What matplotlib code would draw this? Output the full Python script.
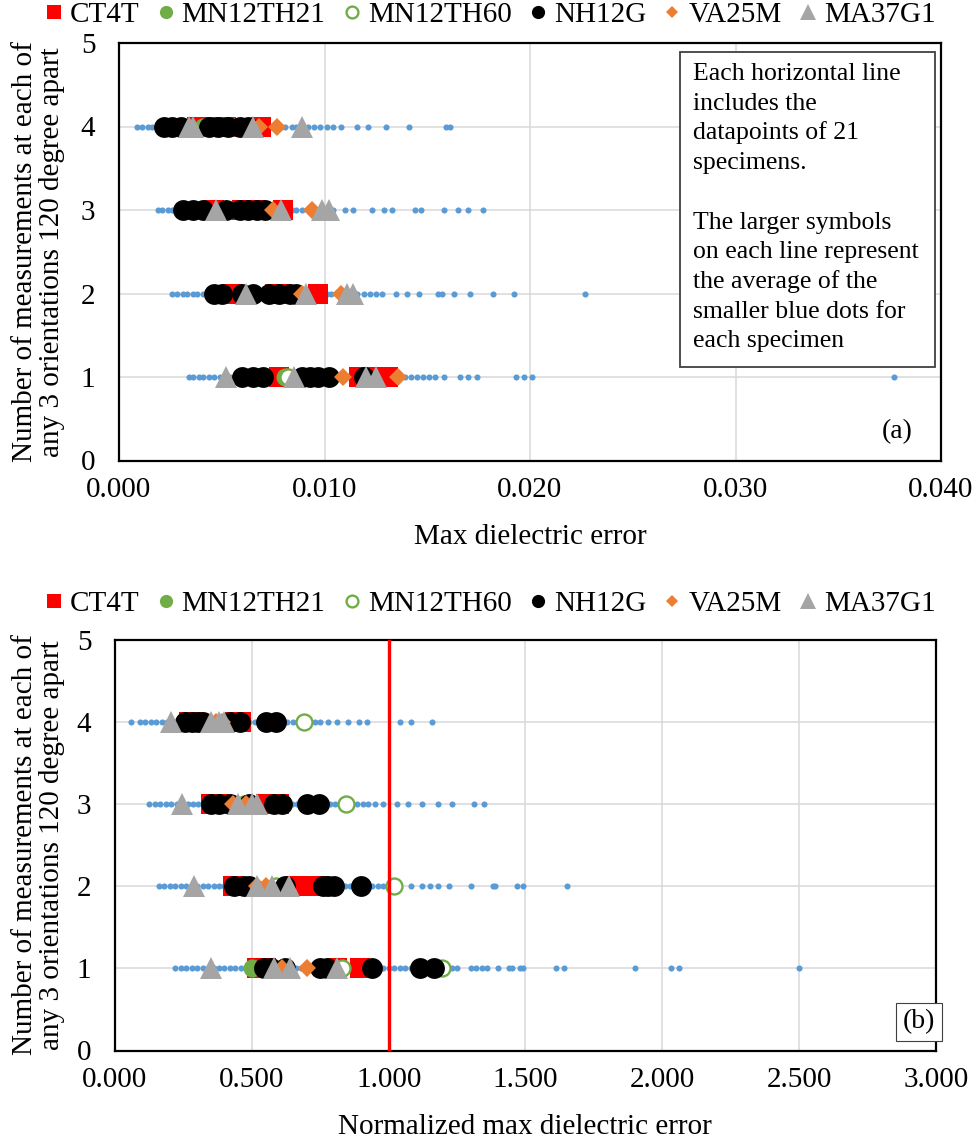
"""Max dielectric error vs. number of measurements, raw (a) and normalized (b)."""
import matplotlib

matplotlib.use("Agg")
import matplotlib.pyplot as plt
from matplotlib.lines import Line2D
from matplotlib.patches import Rectangle
from matplotlib.ticker import FormatStrFormatter

plt.rcParams["font.family"] = ["Liberation Serif", "DejaVu Serif"]

ROWS = [1, 2, 3, 4]
SPECIMENS = ["CT4T", "MN12TH21", "MN12TH60", "NH12G", "VA25M", "MA37G1"]

# ---- panel (a): max dielectric error, individual measurements (blue dots)
A_BLUE = {
    4: [0.0009, 0.0011, 0.0014, 0.0016, 0.0019, 0.0021, 0.0024, 0.0026, 0.0029, 0.0031,
        0.0034, 0.0036, 0.0039, 0.0041, 0.0044, 0.0046, 0.0049, 0.0051, 0.0054, 0.0056,
        0.0059, 0.0061, 0.0064, 0.0066, 0.0069, 0.0071, 0.0074, 0.0076, 0.0079, 0.0081,
        0.0084, 0.0086, 0.0089, 0.0092, 0.0095, 0.0098, 0.0101, 0.0104, 0.0108, 0.0116,
        0.0121, 0.0130, 0.0141, 0.0159, 0.0161],
    3: [0.0019, 0.0021, 0.0024, 0.0026, 0.0029, 0.0031, 0.0034, 0.0036, 0.0039, 0.0041,
        0.0044, 0.0046, 0.0049, 0.0051, 0.0054, 0.0056, 0.0059, 0.0061, 0.0064, 0.0066,
        0.0069, 0.0071, 0.0074, 0.0076, 0.0079, 0.0081, 0.0084, 0.0086, 0.0089, 0.0092,
        0.0095, 0.0098, 0.0101, 0.0104, 0.0110, 0.0114, 0.0123, 0.0129, 0.0133, 0.0144,
        0.0147, 0.0158, 0.0165, 0.0170, 0.0177],
    2: [0.0026, 0.0028, 0.0031, 0.0033, 0.0036, 0.0038, 0.0041, 0.0043, 0.0046, 0.0048,
        0.0051, 0.0053, 0.0056, 0.0058, 0.0061, 0.0063, 0.0066, 0.0068, 0.0071, 0.0073,
        0.0076, 0.0078, 0.0081, 0.0083, 0.0086, 0.0088, 0.0091, 0.0093, 0.0096, 0.0098,
        0.0101, 0.0103, 0.0106, 0.0108, 0.0111, 0.0113, 0.0116, 0.0119, 0.0122, 0.0125,
        0.0128, 0.0135, 0.0140, 0.0146, 0.0155, 0.0157, 0.0163, 0.0171, 0.0182, 0.0192,
        0.0227],
    1: [0.0034, 0.0036, 0.0039, 0.0041, 0.0044, 0.0046, 0.0049, 0.0051, 0.0054, 0.0056,
        0.0059, 0.0061, 0.0064, 0.0066, 0.0069, 0.0071, 0.0074, 0.0076, 0.0079, 0.0081,
        0.0084, 0.0086, 0.0089, 0.0091, 0.0094, 0.0096, 0.0099, 0.0101, 0.0104, 0.0106,
        0.0109, 0.0111, 0.0114, 0.0116, 0.0119, 0.0121, 0.0124, 0.0126, 0.0129, 0.0131,
        0.0134, 0.0136, 0.0139, 0.0142, 0.0145, 0.0148, 0.0151, 0.0154, 0.0158, 0.0166,
        0.0170, 0.0174, 0.0193, 0.0197, 0.0201, 0.0377],
}

# ---- panel (a): specimen averages
A_CT4T = {4: [0.0038, 0.0046, 0.0052, 0.0069], 3: [0.0046, 0.0060, 0.0066, 0.0080],
          2: [0.0055, 0.0076, 0.0079, 0.0097], 1: [0.0078, 0.0117, 0.0122, 0.0131]}
A_MN12TH21 = {4: [0.0041], 3: [0.0053], 2: [0.0072], 1: [0.0081]}
A_MN12TH60 = {4: [0.0045, 0.0055], 3: [0.0053, 0.0059], 2: [0.0065, 0.0073], 1: [0.0082, 0.0095]}
A_NH12G = {4: [0.0022, 0.0026, 0.0030, 0.0044, 0.0048, 0.0053, 0.0059, 0.0063],
           3: [0.0031, 0.0036, 0.0041, 0.0052, 0.0059, 0.0063, 0.0067, 0.0071],
           2: [0.0046, 0.0050, 0.0060, 0.0065, 0.0073, 0.0078, 0.0083, 0.0086],
           1: [0.0060, 0.0065, 0.0070, 0.0089, 0.0093, 0.0097, 0.0102, 0.0119]}
A_VA25M = {4: [0.0068, 0.0077], 3: [0.0075, 0.0094], 2: [0.0089, 0.0108], 1: [0.0109, 0.0136]}
A_MA37G1 = {4: [0.0034, 0.0036, 0.0065, 0.0089], 3: [0.0047, 0.0079, 0.0099, 0.0102],
            2: [0.0062, 0.0091, 0.0111, 0.0114], 1: [0.0052, 0.0085, 0.0120, 0.0125]}

# ---- panel (b): normalized max dielectric error, individual measurements
B_BLUE = {
    4: [0.06, 0.09, 0.11, 0.13, 0.15, 0.17, 0.19, 0.21, 0.23, 0.25, 0.27, 0.29, 0.31, 0.33,
        0.35, 0.37, 0.39, 0.41, 0.43, 0.45, 0.47, 0.49, 0.51, 0.53, 0.55, 0.57, 0.59, 0.61,
        0.63, 0.65, 0.67, 0.69, 0.71, 0.73, 0.75, 0.78, 0.81, 0.85, 0.89, 0.92, 1.04, 1.08,
        1.16],
    3: [0.125, 0.145, 0.165, 0.185, 0.205, 0.225, 0.245, 0.265, 0.285, 0.305, 0.325, 0.345,
        0.365, 0.385, 0.405, 0.425, 0.445, 0.465, 0.485, 0.505, 0.525, 0.545, 0.565, 0.585,
        0.605, 0.625, 0.645, 0.665, 0.685, 0.705, 0.725, 0.745, 0.765, 0.785, 0.805, 0.825,
        0.845, 0.865, 0.885, 0.905, 0.925, 0.95, 0.98, 1.03, 1.07, 1.12, 1.18, 1.23, 1.31,
        1.35],
    2: [0.16, 0.18, 0.20, 0.22, 0.24, 0.26, 0.28, 0.30, 0.32, 0.34, 0.36, 0.38, 0.40, 0.42,
        0.44, 0.46, 0.48, 0.50, 0.52, 0.54, 0.56, 0.58, 0.60, 0.62, 0.64, 0.66, 0.68, 0.70,
        0.72, 0.74, 0.76, 0.78, 0.80, 0.82, 0.84, 0.86, 0.88, 0.90, 0.92, 0.94, 0.96, 0.98,
        1.08, 1.12, 1.15, 1.18, 1.22, 1.30, 1.38, 1.39, 1.47, 1.49, 1.65],
    1: [0.22, 0.24, 0.26, 0.28, 0.30, 0.32, 0.34, 0.36, 0.38, 0.40, 0.42, 0.44, 0.46, 0.48,
        0.50, 0.52, 0.54, 0.56, 0.58, 0.60, 0.62, 0.64, 0.66, 0.68, 0.70, 0.72, 0.74, 0.76,
        0.78, 0.80, 0.82, 0.84, 0.86, 0.88, 0.90, 0.92, 0.94, 0.96, 0.98, 1.00, 1.02, 1.04,
        1.06, 1.08, 1.10, 1.23, 1.25, 1.30, 1.32, 1.34, 1.36, 1.40, 1.44, 1.45, 1.48, 1.49,
        1.61, 1.64, 1.90, 2.03, 2.06, 2.50],
}

# ---- panel (b): specimen averages
B_CT4T = {4: [0.27, 0.29, 0.44, 0.46], 3: [0.35, 0.38, 0.55, 0.60],
          2: [0.43, 0.66, 0.72, 0.745], 1: [0.52, 0.55, 0.81, 0.895]}
B_MN12TH21 = {4: [0.31], 3: [0.44], 2: [0.50], 1: [0.50]}
B_MN12TH60 = {4: [0.32, 0.69], 3: [0.47, 0.845], 2: [0.59, 1.02], 1: [0.83, 1.195]}
B_NH12G = {4: [0.255, 0.28, 0.305, 0.32, 0.42, 0.455, 0.55, 0.59],
           3: [0.35, 0.38, 0.42, 0.49, 0.58, 0.61, 0.70, 0.745],
           2: [0.435, 0.47, 0.49, 0.62, 0.76, 0.78, 0.80, 0.90],
           1: [0.545, 0.57, 0.62, 0.75, 0.775, 0.94, 1.115, 1.165]}
B_VA25M = {4: [0.37, 0.39], 3: [0.43, 0.48], 2: [0.52, 0.55], 1: [0.61, 0.70]}
B_MA37G1 = {4: [0.205, 0.35, 0.38, 0.40], 3: [0.245, 0.45, 0.50, 0.52],
            2: [0.29, 0.52, 0.575, 0.635], 1: [0.35, 0.58, 0.64, 0.81]}

NOTE_LINES = ["Each horizontal line", "includes the", "datapoints of 21", "specimens.", "",
              "The larger symbols", "on each line represent", "the average of the",
              "smaller blue dots for", "each specimen"]
YLABEL_1 = "Number of measurements at each of"
YLABEL_2 = "any 3 orientations 120 degree apart"

BLUE = "#5B9BD5"
GRID = "#D9D9D9"
STYLE = {
    "CT4T": dict(marker="s", ms=14, mfc="#FF0000", mec="#FF0000", mew=0),
    "MN12TH21": dict(marker="o", ms=13, mfc="#70AD47", mec="#70AD47", mew=0),
    "MN12TH60": dict(marker="o", ms=11.5, mfc="white", mec="#70AD47", mew=1.7),
    "NH12G": dict(marker="o", ms=15, mfc="black", mec="black", mew=0),
    "VA25M": dict(marker="D", ms=8.8, mfc="#ED7D31", mec="#ED7D31", mew=0),
    "MA37G1": dict(marker="^", ms=16, mfc="#A5A5A5", mec="#A5A5A5", mew=0),
}
LEGEND_MS = {"CT4T": 10, "MN12TH21": 9.5, "MN12TH60": 8.5, "NH12G": 9.5, "VA25M": 6.5,
             "MA37G1": 11}

W, H = 978, 1141


def fx(px):
    return px / W


def fy(py):
    return 1 - py / H


def draw_panel(ax, blue, groups, xmax, xstep):
    for row in ROWS:
        ax.plot(blue[row], [row] * len(blue[row]), ls="none", marker="o", ms=4.4,
                mfc=BLUE, mec=BLUE, mew=0, zorder=3)
    for z, name in enumerate(SPECIMENS):
        for row in ROWS:
            xs = groups[name][row]
            ax.plot(xs, [row] * len(xs), ls="none", zorder=4 + z, **STYLE[name])
    ax.set_xlim(0, xmax)
    ax.set_ylim(0, 5)
    ticks = [i * xstep for i in range(int(round(xmax / xstep)) + 1)]
    ax.set_xticks(ticks)
    ax.set_yticks(range(6))
    ax.xaxis.set_major_formatter(FormatStrFormatter("%.3f"))
    ax.grid(True, color=GRID, lw=1.1)
    ax.set_axisbelow(True)
    ax.tick_params(axis="x", length=0, labelsize=21, pad=12)
    ax.tick_params(axis="y", length=0, labelsize=21, pad=17)
    for s in ax.spines.values():
        s.set_color("black")
        s.set_linewidth(1.6)


def legend(fig, y):
    handles = []
    for name in SPECIMENS:
        st = dict(STYLE[name])
        st["ms"] = LEGEND_MS[name]
        handles.append(Line2D([], [], ls="none", **st))
    fig.legend(handles, SPECIMENS, loc="center", bbox_to_anchor=(fx(491), fy(y)), ncol=6,
               frameon=False, prop={"family": "Liberation Serif", "size": 21},
               handlelength=0.5, handletextpad=0.3, columnspacing=0.65,
               borderaxespad=0, borderpad=0)


fig = plt.figure(figsize=(W / 100, H / 100), dpi=100)
ax_a = fig.add_axes([fx(119), fy(460.5), fx(822), 417.5 / H])
ax_b = fig.add_axes([fx(115), fy(1050.5), fx(821), 411 / H])

a_groups = dict(zip(SPECIMENS, [A_CT4T, A_MN12TH21, A_MN12TH60, A_NH12G, A_VA25M, A_MA37G1]))
b_groups = dict(zip(SPECIMENS, [B_CT4T, B_MN12TH21, B_MN12TH60, B_NH12G, B_VA25M, B_MA37G1]))
draw_panel(ax_a, A_BLUE, a_groups, 0.040, 0.010)
draw_panel(ax_b, B_BLUE, b_groups, 3.0, 0.5)
ax_b.axvline(1.0, color="#FF0000", lw=2.4, zorder=12)

legend(fig, 15)
legend(fig, 604)

fig.text(fx(530), fy(537), "Max dielectric error", ha="center", va="center", fontsize=21)
fig.text(fx(525), fy(1127), "Normalized max dielectric error", ha="center", va="center",
         fontsize=21)
for yc in (252, 845):
    fig.text(fx(25), fy(yc), YLABEL_1, rotation=90, ha="center", va="center", fontsize=21)
    fig.text(fx(52), fy(yc), YLABEL_2, rotation=90, ha="center", va="center", fontsize=21)

# note box in panel (a)
ax_a.add_patch(Rectangle((fx(680), fy(367)), fx(255), 315 / H, transform=fig.transFigure,
                         fc="white", ec="#404040", lw=1.3, zorder=20))
for i, line in enumerate(NOTE_LINES):
    if line:
        fig.text(fx(693), fy(80 + i * 29.7), line, ha="left", va="baseline", fontsize=18.5,
                 zorder=21)

ax_a.text(fx(897), fy(432), "(a)", transform=fig.transFigure, ha="center", va="center",
          fontsize=20, zorder=21)
ax_b.text(fx(919), fy(1022), "(b)", transform=fig.transFigure, ha="center", va="center",
          fontsize=20, zorder=21,
          bbox=dict(boxstyle="square,pad=0.25", fc="white", ec="#404040", lw=0.8))

fig.savefig("out.png", dpi=100)
